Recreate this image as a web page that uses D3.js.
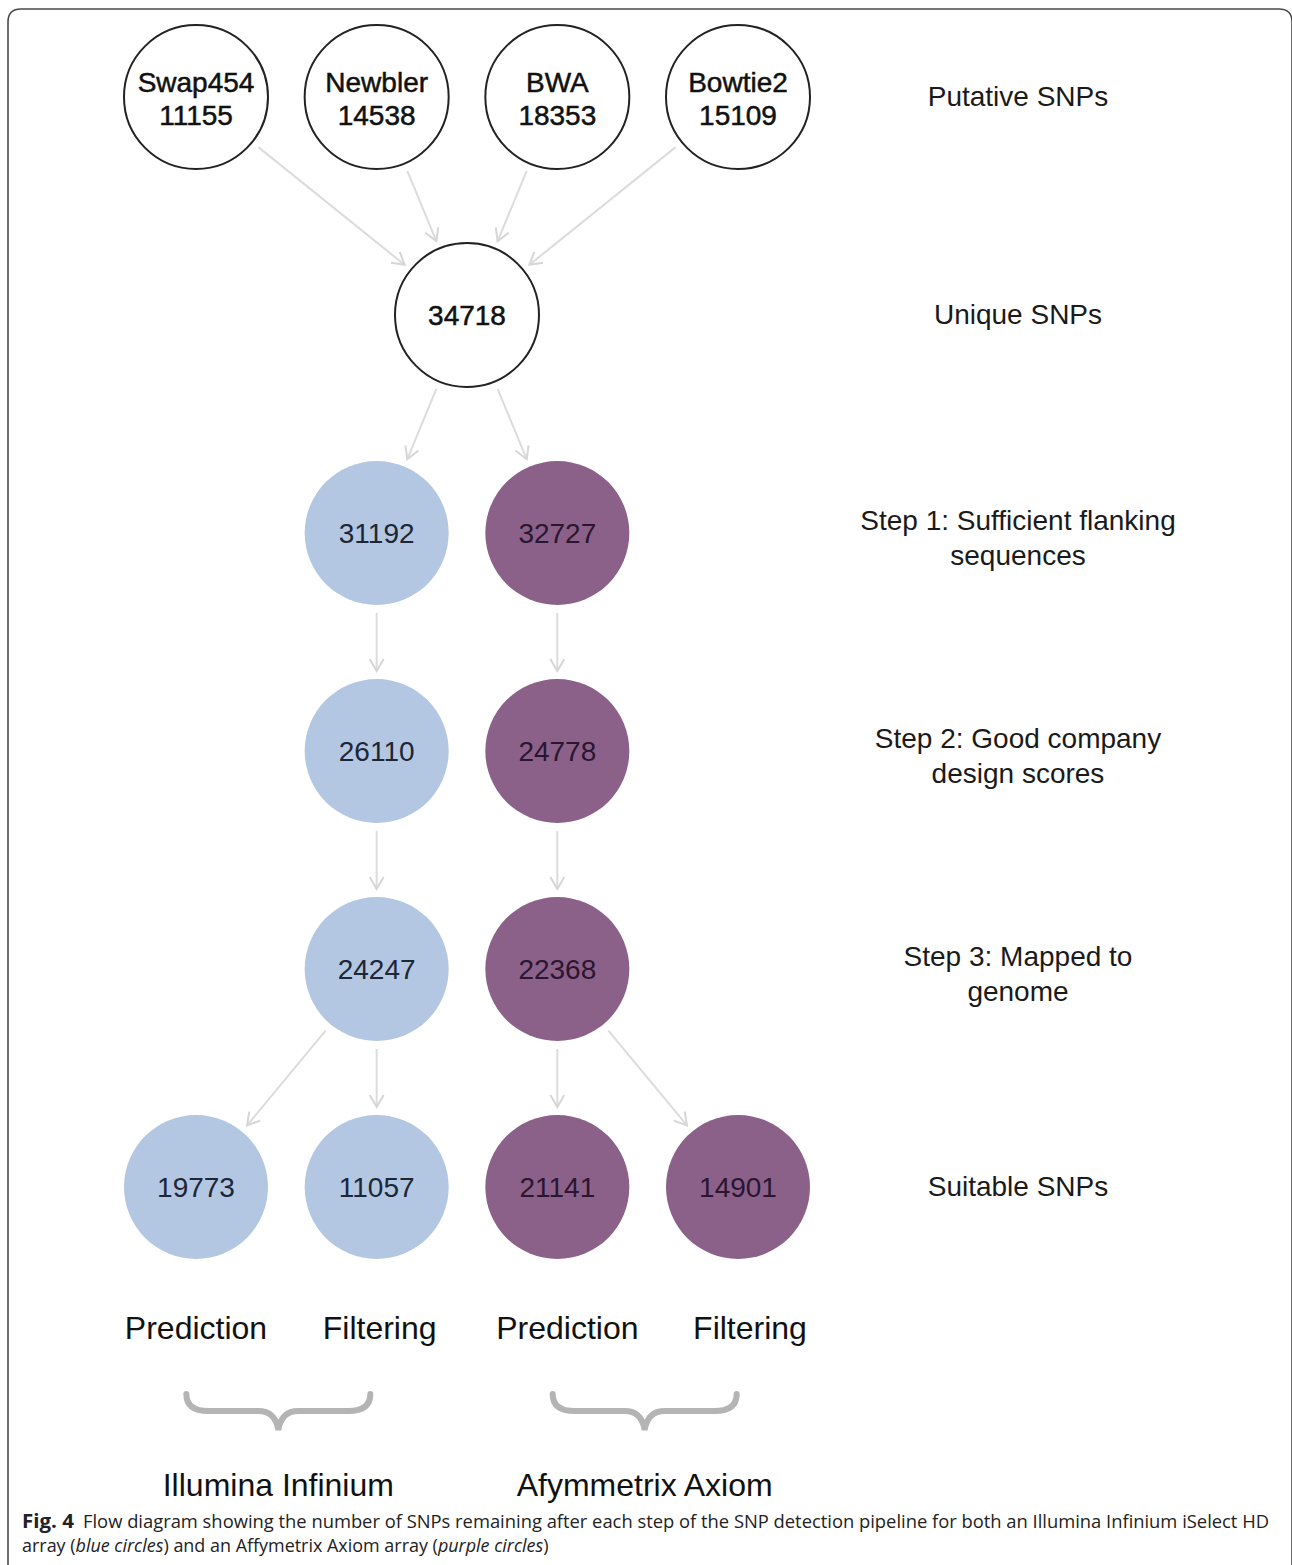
<!DOCTYPE html>
<html>
<head>
<meta charset="utf-8">
<script src="https://cdn.jsdelivr.net/npm/d3@7"></script>
<style>
  body { margin:0; background:#fff; }
  svg { display:block; }
</style>
</head>
<body>
<div id="plot"></div>
<script>
// nodes: tier (row), column, label lines and array group
var nodeNames  = ['Swap454','Newbler','BWA','Bowtie2','unique','il1','af1','il2','af2','il3','af3','ilP','ilF','afP','afF'];
var nodeValues = [11155,14538,18353,15109,34718,31192,32727,26110,24778,24247,22368,19773,11057,21141,14901];
var nodeTitles = ['Swap454','Newbler','BWA','Bowtie2','','','','','','','','','','',''];
var nodeTier   = [0,0,0,0,1,2,2,3,3,4,4,5,5,5,5];
var nodeCol    = [0,1,2,3,1.5,1,2,1,2,1,2,0,1,2,3];
var nodeGroup  = ['tool','tool','tool','tool','tool','il','af','il','af','il','af','il','il','af','af'];

// edges: [from, to]
var edges = [
  ['Swap454','unique'],['Newbler','unique'],['BWA','unique'],['Bowtie2','unique'],
  ['unique','il1'],['unique','af1'],
  ['il1','il2'],['af1','af2'],
  ['il2','il3'],['af2','af3'],
  ['il3','ilP'],['il3','ilF'],['af3','afP'],['af3','afF']
];

var stepLabels = [
  ['Putative SNPs'],
  ['Unique SNPs'],
  ['Step 1: Sufficient flanking','sequences'],
  ['Step 2: Good company','design scores'],
  ['Step 3: Mapped to','genome'],
  ['Suitable SNPs']
];

var methodLabels = ['Prediction','Filtering','Prediction','Filtering'];
var arrayLabels  = ['Illumina Infinium','Afymmetrix Axiom'];

var captionBold = 'Fig. 4';
var captionLine1 = 'Flow diagram showing the number of SNPs remaining after each step of the SNP detection pipeline for both an Illumina Infinium iSelect HD';
var captionLine2 = ['array (', 'blue circles', ') and an Affymetrix Axiom array (', 'purple circles', ')'];

var fills = { tool:'#ffffff', il:'#b3c7e2', af:'#8b6189' };
var inks  = { tool:'#111111', il:'#1c2636', af:'#2a1630' };

var W = 1292, H = 1565, R = 72, gap = 8;

var svg = d3.select('#plot').append('svg')
  .attr('width', W).attr('height', H);

var x = d3.scaleLinear().domain([0,3]).range([196,738]);
var y = d3.scaleLinear().domain([0,5]).range([97,1187]);

// frame
svg.append('path')
  .attr('d','M8,1570 V22 Q8,9 21,9 H1279 Q1292,9 1292,22 V1570')
  .attr('fill','none').attr('stroke','#4a4a4a').attr('stroke-width',1.6);

// arrow marker
svg.append('defs').append('marker')
  .attr('id','arr').attr('viewBox','-13 -8 15 16')
  .attr('markerWidth',15).attr('markerHeight',16)
  .attr('markerUnits','userSpaceOnUse')
  .attr('refX',0).attr('refY',0).attr('orient','auto')
  .append('path').attr('d','M-12,-7 L0,0 L-12,7')
  .attr('fill','none').attr('stroke','#d6d6d6').attr('stroke-width',2);

var nodes = nodeNames.map(function(n,i){
  return {name:n, value:nodeValues[i], title:nodeTitles[i], cx:x(nodeCol[i]), cy:y(nodeTier[i]), group:nodeGroup[i]};
});
var byName = {};
nodes.forEach(function(d){ byName[d.name] = d; });

// edges
svg.append('g').selectAll('line').data(edges).enter().append('line')
  .each(function(e){
    var a = byName[e[0]], b = byName[e[1]];
    var dx = b.cx-a.cx, dy = b.cy-a.cy, len = Math.sqrt(dx*dx+dy*dy);
    var off = R+gap;
    d3.select(this)
      .attr('x1', a.cx+dx/len*off).attr('y1', a.cy+dy/len*off)
      .attr('x2', b.cx-dx/len*off).attr('y2', b.cy-dy/len*off);
  })
  .attr('stroke','#dcdcdc').attr('stroke-width',2)
  .attr('marker-end','url(#arr)');

// circles
var g = svg.append('g').selectAll('g').data(nodes).enter().append('g')
  .attr('transform', function(d){ return 'translate('+d.cx+','+d.cy+')'; });

g.append('circle').attr('r', R)
  .attr('fill', function(d){ return fills[d.group]; })
  .attr('stroke', function(d){ return d.group=='tool' ? '#222' : 'none'; })
  .attr('stroke-width', 2);

g.append('text')
  .attr('text-anchor','middle')
  .attr('font-family','"Liberation Sans", Arial, sans-serif')
  .attr('font-size', 28)
  .attr('fill', function(d){ return inks[d.group]; })
  .attr('stroke', function(d){ return d.group=='tool' ? '#111' : 'none'; })
  .attr('stroke-width', 0.5)
  .each(function(d){
    var t = d3.select(this);
    if (d.title) {
      t.append('tspan').attr('x',0).attr('y',-5).text(d.title);
      t.append('tspan').attr('x',0).attr('y',28).text(d.value);
    } else {
      t.append('tspan').attr('x',0).attr('y',10).text(d.value);
    }
  });

// step labels on the right
svg.append('g').selectAll('text').data(stepLabels).enter().append('text')
  .attr('text-anchor','middle')
  .attr('font-family','"Liberation Sans", Arial, sans-serif')
  .attr('font-size', 28)
  .attr('fill','#1a1a1a')
  .each(function(lines, i){
    var t = d3.select(this);
    var base = y(i) + (lines.length > 1 ? -3 : 9);
    lines.forEach(function(l, j){
      t.append('tspan').attr('x',1018).attr('y', base + j*35).text(l);
    });
  });

// method labels
var methodShift = [0, 3, 10, 12];
svg.append('g').selectAll('text').data(methodLabels).enter().append('text')
  .attr('x', function(d,i){ return x(i) + methodShift[i]; })
  .attr('y', 1339)
  .attr('text-anchor','middle')
  .attr('font-family','"Liberation Sans", Arial, sans-serif')
  .attr('font-size', 32)
  .attr('fill','#111')
  .text(function(d){ return d; });

// braces + array labels
var braceC = [x(0.5)-8, x(2.5)-3];
svg.append('g').selectAll('path').data(braceC).enter().append('path')
  .attr('d', function(c){
    var t = 1394, m = 17, b = 36;
    return 'M'+(c-92)+','+t+' Q'+(c-92)+','+(t+m)+' '+(c-70)+','+(t+m)+
      ' H'+(c-20)+' Q'+(c-3)+','+(t+m)+' '+c+','+(t+b)+
      ' Q'+(c+3)+','+(t+m)+' '+(c+20)+','+(t+m)+
      ' H'+(c+70)+' Q'+(c+92)+','+(t+m)+' '+(c+92)+','+t;
  })
  .attr('fill','none').attr('stroke','#b4b4b4').attr('stroke-width',6)
  .attr('stroke-linecap','round');

svg.append('g').selectAll('text').data(arrayLabels).enter().append('text')
  .attr('x', function(d,i){ return braceC[i]; })
  .attr('y', 1496)
  .attr('text-anchor','middle')
  .attr('font-family','"Liberation Sans", Arial, sans-serif')
  .attr('font-size', 32)
  .attr('fill','#111')
  .text(function(d){ return d; });

// caption: narrow font imitation by horizontal scaling to the measured width
function captionText(x0, y0, width, parts, bold) {
  var grp = svg.append('g');
  var t = grp.append('text').attr('x',0).attr('y',0)
    .attr('font-family','"Open Sans", "Noto Sans", sans-serif')
    .attr('font-size',19).attr('fill','#222');
  if (bold) t.attr('font-weight','bold');
  parts.forEach(function(s, i){
    t.append('tspan').attr('font-style', i%2 ? 'italic' : 'normal').text(s);
  });
  var k = width / t.node().getComputedTextLength();
  grp.attr('transform','translate('+x0+','+y0+') scale('+k+',1)');
}
captionText(22, 1528, 52, [captionBold], true);
captionText(83, 1528, 1187, [captionLine1], false);
captionText(22, 1552, 527, captionLine2, false);
</script>
</body>
</html>
